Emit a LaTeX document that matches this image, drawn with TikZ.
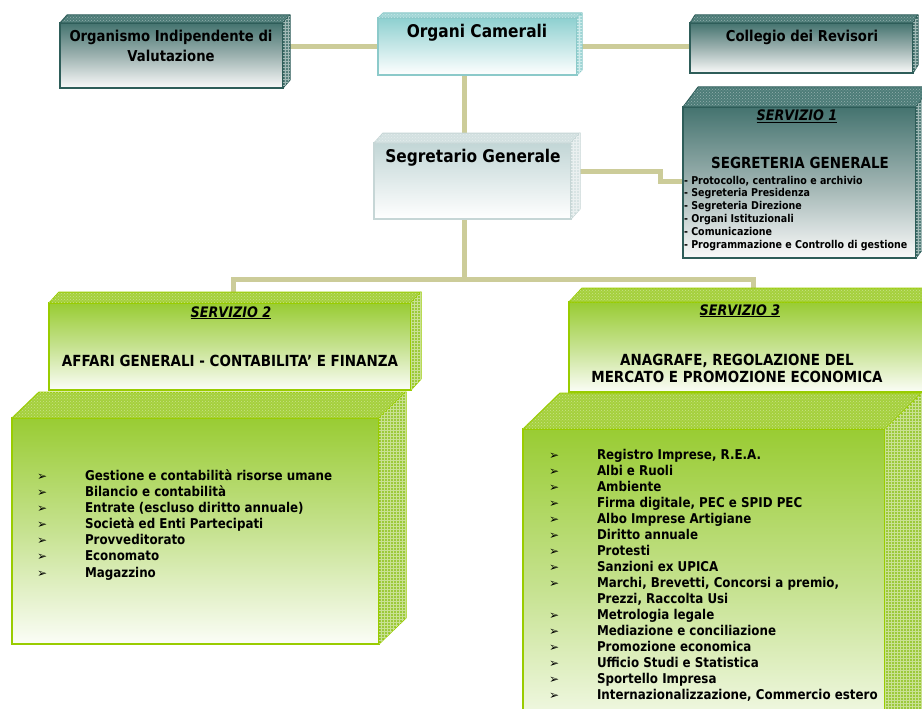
\documentclass[tikz,border=0pt]{standalone}
\usepackage{fontspec}
\setmainfont{DejaVu Sans}[FakeStretch=0.88]
\newfontfamily\symfont{DejaVu Sans}
\usetikzlibrary{patterns,backgrounds}
\definecolor{khaki}{HTML}{CCCC99}
\definecolor{tealT}{HTML}{44736F}
\definecolor{tealM}{HTML}{9DB2B0}
\definecolor{tealW}{HTML}{FAFAFA}
\definecolor{tealB}{HTML}{2E5D59}
\definecolor{tealTop}{HTML}{4D7C78}
\definecolor{tealSide}{HTML}{557F7B}
\definecolor{cyanT}{HTML}{8ED0D0}
\definecolor{cyanB}{HTML}{8CCACA}
\definecolor{cyanTop}{HTML}{A2D6D6}
\definecolor{cyanSide}{HTML}{A8DADA}
\definecolor{greyT}{HTML}{C2D6D6}
\definecolor{greyB}{HTML}{C6D6D6}
\definecolor{greyTop}{HTML}{D3E1E1}
\definecolor{greySide}{HTML}{D8E4E4}
\definecolor{greenT}{HTML}{99CC33}
\definecolor{greenM}{HTML}{C6E290}
\definecolor{greenW}{HTML}{FBFDF7}
\definecolor{greenB}{HTML}{99CC00}
\definecolor{greenTop}{HTML}{A5D03C}
\definecolor{greenSide}{HTML}{9CC93A}
\newcommand\cubefaces[6]{%
  \filldraw[fill=#4, draw=#6, line width=1pt, line join=round]
    (#1.north west) -- ([shift={(#2,-#3)}]#1.north west) -- ([shift={(#2,-#3)}]#1.north east) -- (#1.north east) -- cycle;
  \fill[pattern=crosshatch dots, pattern color=white!40!#4]
    (#1.north west) -- ([shift={(#2,-#3)}]#1.north west) -- ([shift={(#2,-#3)}]#1.north east) -- (#1.north east) -- cycle;
  \filldraw[fill=#5, draw=#6, line width=1pt, line join=round]
    (#1.north east) -- ([shift={(#2,-#3)}]#1.north east) -- ([shift={(#2,-#3)}]#1.south east) -- (#1.south east) -- cycle;
  \fill[pattern=grid, pattern color=white!45!#5]
    (#1.north east) -- ([shift={(#2,-#3)}]#1.north east) -- ([shift={(#2,-#3)}]#1.south east) -- (#1.south east) -- cycle;
}
\begin{document}
\begin{tikzpicture}[x=1pt,y=-1pt,
  conn/.style={draw=khaki, line width=5pt, line join=miter},
  face/.style={inner sep=0pt, outer sep=0pt, anchor=north west, line width=1.3pt},
  tealbox/.style={face, draw=tealB, top color=tealT, bottom color=tealW, middle color=tealM},
  cyanbox/.style={face, draw=cyanB, top color=cyanT, bottom color=white},
  greybox/.style={face, draw=greyB, top color=greyT, bottom color=white},
  greenbox/.style={face, draw=greenB, top color=greenT, bottom color=greenW, middle color=greenM},
  txt/.style={inner sep=0pt, outer sep=0pt, text=black},
  big/.style={txt, font=\fontsize{17.5}{20}\selectfont\bfseries},
  mid/.style={txt, font=\fontsize{15}{18}\selectfont\bfseries},
  head/.style={txt, font=\fontsize{15.3}{18}\selectfont\bfseries},
  serv/.style={txt, font=\fontsize{14.5}{17}\selectfont\bfseries\itshape},
  item/.style={txt, font=\fontsize{13.5}{16}\selectfont\bfseries, anchor=base west},
  smallitem/.style={txt, font=\fontsize{10.8}{12.8}\selectfont\bfseries, anchor=base west},
  bul/.style={txt, font=\symfont\fontsize{12}{12}\selectfont, anchor=base west}
]
\useasboundingbox (0,0) rectangle (922,709);

% ---------- boxes (front faces) ----------
\node[tealbox, minimum width=223pt, minimum height=65pt] (OIV) at (60,23) {};
\node[cyanbox, minimum width=199pt, minimum height=57pt] (OC) at (378,18) {};
\node[tealbox, minimum width=223pt, minimum height=50pt] (CR) at (690,23) {};
\node[greybox, minimum width=197pt, minimum height=76pt] (SG) at (374,143) {};
\node[tealbox, minimum width=233pt, minimum height=151pt] (S1) at (683,107) {};
\node[greenbox, minimum width=362pt, minimum height=87pt] (S2) at (49,303) {};
\node[greenbox, minimum width=367pt, minimum height=226pt] (S2L) at (12,418) {};
\node[greenbox, minimum width=366pt, minimum height=90pt] (S3) at (569,302) {};
\node[greenbox, minimum width=362pt, minimum height=320pt] (S3L) at (523,429) {};

% ---------- 3D faces ----------
\cubefaces{OIV}{7}{8}{tealTop}{tealSide}{tealB}
\cubefaces{OC}{5}{5}{cyanTop}{cyanSide}{cyanB}
\cubefaces{CR}{5}{8}{tealTop}{tealSide}{tealB}
\cubefaces{SG}{9}{10}{greyTop}{greySide}{greyB}
\cubefaces{S1}{15}{20}{tealTop}{tealSide}{tealB}
\cubefaces{S2}{10}{11}{greenTop}{greenSide}{greenB}
\cubefaces{S2L}{27}{26}{greenTop}{greenSide}{greenB}
\cubefaces{S3}{13}{14}{greenTop}{greenSide}{greenB}
\cubefaces{S3L}{37}{36}{greenTop}{greenSide}{greenB}

% ---------- connectors ----------
\coordinate (t0) at (464,0);
\coordinate (hb) at (0,279);
\coordinate (bl) at (233,279);
\coordinate (br) at (753,279);
\coordinate (j1) at (660,171);
\coordinate (j2) at (660,181);
\begin{scope}[on background layer]
  \fill[white] (0,0) rectangle (922,709);
  \draw[conn] (OC.west -| OIV.east) -- (OC.west);
  \draw[conn] (OC.east) -- (OC.east -| CR.west);
  \draw[conn] (t0 |- OC.south) -- (t0 |- hb);
  \draw[conn] (bl |- S2.north) -- (bl) -- (br) -- (br |- S3.north);
  \draw[conn] (j1 -| SG.east) -- (j1) -- (j2) -- (j2 -| S1.west);
\end{scope}

% ---------- texts ----------
\node[mid, anchor=base] (tOIVa) at (171,42) {Organismo Indipendente di};
\node[mid, anchor=base] (tOIVb) at (171,62) {Valutazione};
\node[big, anchor=base] (tOC) at (477,38) {Organi Camerali};
\node[mid, anchor=base] (tCR) at (802,42) {Collegio dei Revisori};
\node[big, anchor=base] (tSG) at (473,162) {Segretario Generale};

\node[serv, anchor=base] (tS1a) at (797,121) {\underline{SERVIZIO 1}};
\node[head, anchor=base] (tS1b) at (800,168) {SEGRETERIA GENERALE};
\foreach \t [count=\i from 0] in {{- Protocollo, centralino e archivio},{- Segreteria Presidenza},{- Segreteria Direzione},{- Organi Istituzionali},{- Comunicazione},{- Programmazione e Controllo di gestione}}
  \node[smallitem] (s1l\i) at (684,{184+12.8*\i}) {\t};

\node[serv, anchor=base] (tS2a) at (231,317) {\underline{SERVIZIO 2}};
\node[head, anchor=base] (tS2b) at (230,366) {AFFARI GENERALI - CONTABILITA’ E FINANZA};
\foreach \t [count=\i from 0] in {{Gestione e contabilità risorse umane},{Bilancio e contabilità},{Entrate (escluso diritto annuale)},{Società ed Enti Partecipati},{Provveditorato},{Economato},{Magazzino}}{
  \node[bul] (b2\i) at (37,{480+16.17*\i}) {➢};
  \node[item] (s2l\i) at (85,{480+16.17*\i}) {\t};
}

\node[serv, anchor=base] (tS3a) at (740,315) {\underline{SERVIZIO 3}};
\node[head, anchor=base] (tS3b) at (737,365) {ANAGRAFE, REGOLAZIONE DEL};
\node[head, anchor=base] (tS3c) at (737,382) {MERCATO E PROMOZIONE ECONOMICA};
\foreach \t [count=\i from 0] in {{Registro Imprese, R.E.A.},{Albi e Ruoli},{Ambiente},{Firma digitale, PEC e SPID PEC},{Albo Imprese Artigiane},{Diritto annuale},{Protesti},{Sanzioni ex UPICA},{Marchi, Brevetti, Concorsi a premio,},{Prezzi, Raccolta Usi},{Metrologia legale},{Mediazione e conciliazione},{Promozione economica},{Ufficio Studi e Statistica},{Sportello Impresa},{Internazionalizzazione, Commercio estero}}
  \node[item] (s3l\i) at (597,{459+16*\i}) {\t};
\foreach \i in {0,1,2,3,4,5,6,7,8,10,11,12,13,14,15}
  \node[bul] (b3\i) at (549,{459+16*\i}) {➢};
\end{tikzpicture}
\end{document}
